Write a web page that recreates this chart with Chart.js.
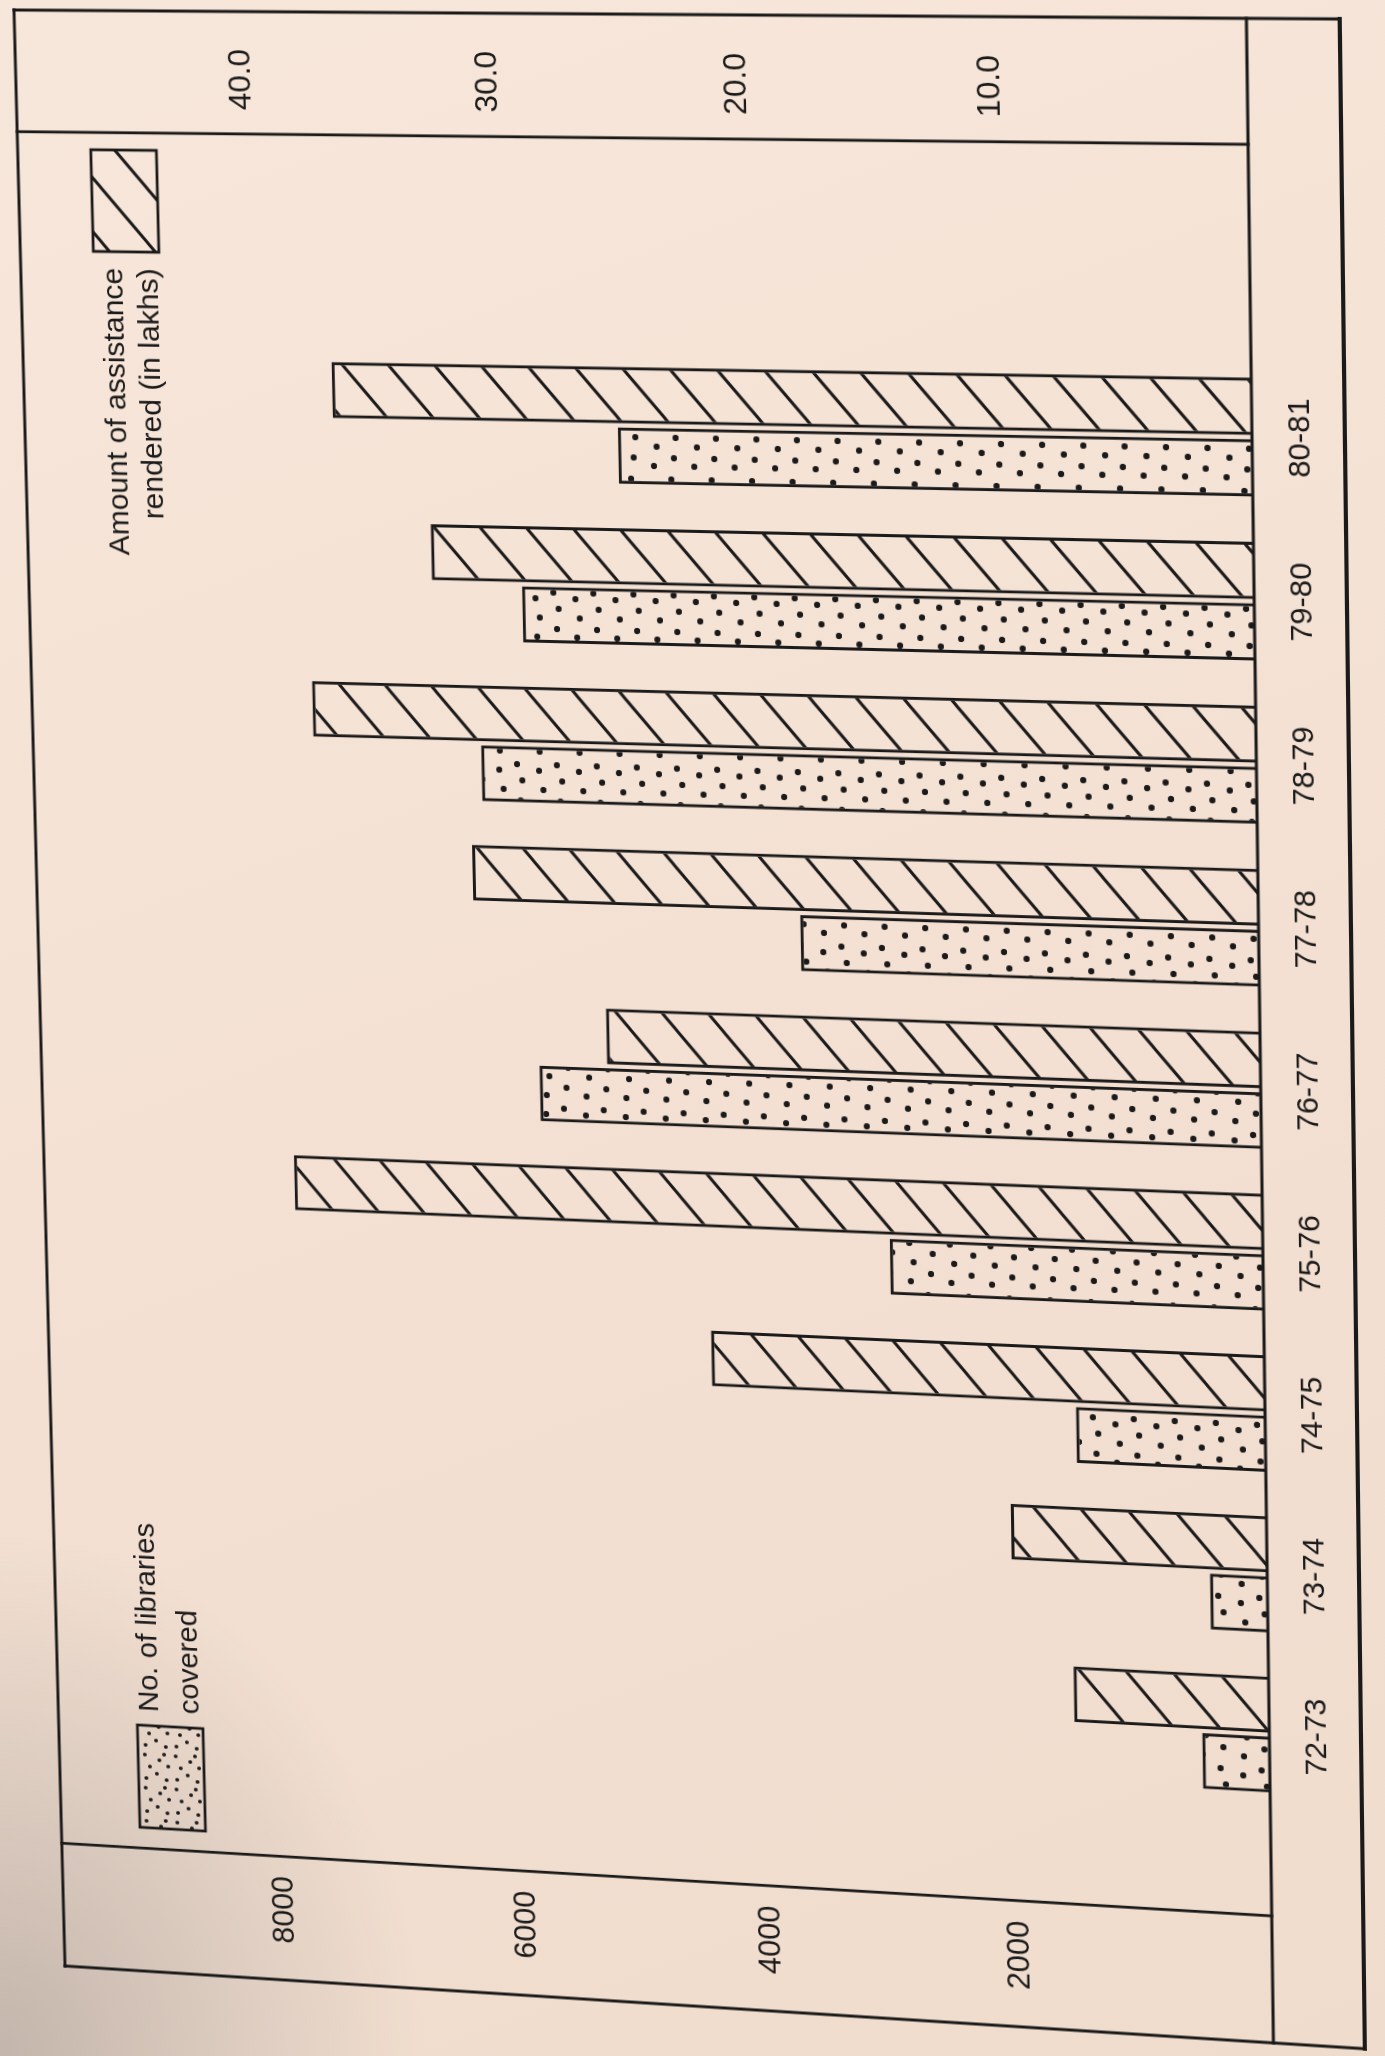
<!DOCTYPE html>
<html>
<head>
<meta charset="utf-8">
<script src="https://cdn.jsdelivr.net/npm/chart.js@4.4.1/dist/chart.umd.min.js"></script>
<style>
  html, body { margin: 0; padding: 0; width: 1385px; height: 2056px; overflow: hidden; }
  body {
    background:
      radial-gradient(ellipse 420px 520px at 0% 100%, rgba(140,132,128,0.45) 0%, rgba(140,132,128,0) 100%),
      linear-gradient(160deg, #f7e7da 0%, #f3e0d2 55%, #efdccd 100%);
  }
  #wrap { position: absolute; left: 0; top: 0; width: 2000px; height: 1330px; transform-origin: 0 0; }
  canvas { display: block; }
</style>
</head>
<body>
<div id="wrap"><canvas id="c" width="2000" height="1330" style="width:2000px;height:1330px"></canvas></div>
<script>
// ---------------- data ----------------
const categories = ['72-73', '73-74', '74-75', '75-76', '76-77', '77-78', '78-79', '79-80', '80-81'];
const librariesCovered = [530, 450, 1490, 2950, 5750, 3620, 6170, 5810, 5010];
const assistanceLakhs = [7.7, 10.1, 22.0, 38.9, 26.0, 31.3, 37.7, 32.7, 36.6];
const librariesTicks = [2000, 4000, 6000, 8000];
const assistanceTicks = [10, 20, 30, 40];
const librariesLegend = ['No. of libraries', 'covered'];
const assistanceLegend = ['Amount of assistance', 'rendered (in lakhs)'];

// ---------------- layout (upright drawing, then projected like the photographed page) ----------------
const CW = 2000, CH = 1330;
const FRAME = { u0: 10, u1: 1990, v0: 10, v1: 1320 };
const AREA = { left: 237.5, right: 1666.7, bottom: 1231 };
const PX_PER_UNIT = 24.76;
const AMT_MAX = 49;
const LIB_PER_LAKH = 200;
const BAND_L = 136.7, BAND_R = 1869.2;
const INK = '#1b1a1a';
const FONT = '"Liberation Sans", Arial, Helvetica, sans-serif';

function solveHomography(src, dst) {
  const A = [], b = [];
  for (let i = 0; i < 4; i++) {
    const [x, y] = src[i], [X, Y] = dst[i];
    A.push([x, y, 1, 0, 0, 0, -X * x, -X * y]); b.push(X);
    A.push([0, 0, 0, x, y, 1, -Y * x, -Y * y]); b.push(Y);
  }
  const n = 8;
  for (let c = 0; c < n; c++) {
    let p = c;
    for (let r = c + 1; r < n; r++) if (Math.abs(A[r][c]) > Math.abs(A[p][c])) p = r;
    [A[c], A[p]] = [A[p], A[c]]; [b[c], b[p]] = [b[p], b[c]];
    for (let r = 0; r < n; r++) {
      if (r === c) continue;
      const f = A[r][c] / A[c][c];
      if (!f) continue;
      for (let k = c; k < n; k++) A[r][k] -= f * A[c][k];
      b[r] -= f * b[c];
    }
  }
  return b.map((v, i) => v / A[i][i]);
}
const H = solveHomography(
  [[FRAME.u0, FRAME.v0], [FRAME.u1, FRAME.v0], [FRAME.u1, FRAME.v1], [FRAME.u0, FRAME.v1]],
  [[65, 1966], [14, 10], [1340, 19], [1365, 2049]]
);
document.getElementById('wrap').style.transform =
  `matrix3d(${H[0]},${H[3]},0,${H[6]},${H[1]},${H[4]},0,${H[7]},0,0,1,0,${H[2]},${H[5]},0,1)`;

// ---------------- fill patterns ----------------
function makeHatch() {
  const w = 55, h = 47;
  const t = document.createElement('canvas'); t.width = w; t.height = h;
  const g = t.getContext('2d');
  g.strokeStyle = INK; g.lineWidth = 3.2; g.lineCap = 'square';
  [[-w, 2 * h, 2 * w, -h], [-w, h, w, -h], [0, 2 * h, 2 * w, 0]].forEach(([a, b2, c, d]) => {
    g.beginPath(); g.moveTo(a, b2); g.lineTo(c, d); g.stroke();
  });
  return g.createPattern(t, 'repeat');
}
function makeDots(r, pts, w, h) {
  const t = document.createElement('canvas'); t.width = w; t.height = h;
  const g = t.getContext('2d');
  g.fillStyle = INK;
  pts.forEach(([x, y]) => { g.beginPath(); g.arc(x, y, r, 0, Math.PI * 2); g.fill(); });
  return g.createPattern(t, 'repeat');
}
const hatch = makeHatch();
const dots = makeDots(3.1, [[9, 6], [28, 9], [47, 5], [17, 26], [37, 28], [53, 23]], 57, 40);
const dotsFine = makeDots(1.9, [[5, 4], [17, 8], [29, 3], [10, 15], [24, 18], [4, 25], [18, 27], [30, 23]], 34, 32);

function zeroPad(s) { s.paddingTop = 0; s.paddingBottom = 0; s.paddingLeft = 0; s.paddingRight = 0; }

// ---------------- frame + legend plugin ----------------
const framePlugin = {
  id: 'frame',
  afterDraw(chart) {
    const ctx = chart.ctx;
    const yb = chart.scales.yAmt.getPixelForValue(0);
    ctx.save();
    ctx.strokeStyle = INK;
    ctx.lineCap = 'square';
    const line = (x1, y1, x2, y2, w) => { ctx.lineWidth = w; ctx.beginPath(); ctx.moveTo(x1, y1); ctx.lineTo(x2, y2); ctx.stroke(); };
    line(FRAME.u0, FRAME.v0, FRAME.u1, FRAME.v0, 3);
    line(FRAME.u0, FRAME.v0, FRAME.u0, FRAME.v1, 3);
    line(FRAME.u1, FRAME.v0, FRAME.u1, FRAME.v1, 3);
    line(FRAME.u0, FRAME.v1, FRAME.u1, FRAME.v1, 4);
    line(FRAME.u0, yb, FRAME.u1, yb, 3);
    line(BAND_L, FRAME.v0, BAND_L, yb, 2.8);
    line(BAND_R, FRAME.v0, BAND_R, yb, 2.8);

    ctx.lineWidth = 2.8;
    ctx.fillStyle = dotsFine; ctx.fillRect(158, 92, 105, 68);
    ctx.strokeRect(158, 92, 105, 68);
    ctx.fillStyle = hatch; ctx.fillRect(1751, 85, 101, 67);
    ctx.strokeRect(1751, 85, 101, 67);

    ctx.fillStyle = INK;
    ctx.font = '30px ' + FONT;
    ctx.textBaseline = 'alphabetic';
    ctx.textAlign = 'left';
    ctx.fillText(librariesLegend[0], 277, 114);
    ctx.fillText(librariesLegend[1], 277, 156);
    ctx.textAlign = 'right';
    ctx.fillText(assistanceLegend[0], 1735, 114);
    ctx.fillText(assistanceLegend[1], 1735, 150);
    ctx.restore();
  }
};

// ---------------- chart ----------------
const topPad = AREA.bottom - AMT_MAX * PX_PER_UNIT;
new Chart(document.getElementById('c'), {
  type: 'bar',
  data: {
    labels: categories,
    datasets: [
      {
        label: librariesLegend.join(' '),
        data: librariesCovered,
        yAxisID: 'yLib',
        backgroundColor: dots,
        borderColor: INK,
        borderWidth: 3,
        categoryPercentage: 0.749,
        barPercentage: 0.933
      },
      {
        label: assistanceLegend.join(' '),
        data: assistanceLakhs,
        yAxisID: 'yAmt',
        backgroundColor: hatch,
        borderColor: INK,
        borderWidth: 3,
        categoryPercentage: 0.749,
        barPercentage: 0.933
      }
    ]
  },
  options: {
    responsive: false,
    animation: false,
    devicePixelRatio: 1,
    layout: { padding: { top: topPad, left: 0, right: 0, bottom: 0 } },
    plugins: { legend: { display: false }, tooltip: { enabled: false }, title: { display: false } },
    scales: {
      x: {
        type: 'category',
        grid: { display: false, drawTicks: false },
        border: { display: false },
        ticks: { font: { family: FONT, size: 30 }, color: INK, padding: 29, maxRotation: 0, minRotation: 0, autoSkip: false },
        afterFit(s) { s.height = CH - AREA.bottom; zeroPad(s); }
      },
      yLib: {
        position: 'left',
        min: 0,
        max: AMT_MAX * LIB_PER_LAKH,
        grid: { display: false, drawTicks: false },
        border: { display: false },
        ticks: { font: { family: FONT, size: 31 }, color: INK, padding: 121, callback: v => String(v) },
        afterBuildTicks(s) { s.ticks = librariesTicks.map(v => ({ value: v })); },
        afterFit(s) { s.width = AREA.left; zeroPad(s); }
      },
      yAmt: {
        position: 'right',
        min: 0,
        max: AMT_MAX,
        grid: { display: false, drawTicks: false },
        border: { display: false },
        ticks: { font: { family: FONT, size: 31 }, color: INK, padding: 226, callback: v => Number(v).toFixed(1) },
        afterBuildTicks(s) { s.ticks = assistanceTicks.map(v => ({ value: v })); },
        afterFit(s) { s.width = CW - AREA.right; zeroPad(s); }
      }
    }
  },
  plugins: [framePlugin]
});
</script>
</body>
</html>
